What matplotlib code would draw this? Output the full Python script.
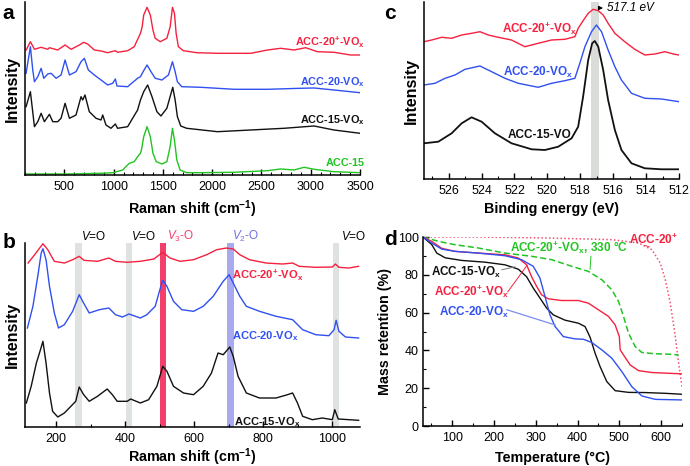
import numpy as np
import matplotlib
matplotlib.use("Agg")
import matplotlib.pyplot as plt
from matplotlib.ticker import MultipleLocator, NullLocator

plt.rcParams['font.family'] = ['Liberation Sans', 'DejaVu Sans']
plt.rcParams['mathtext.fontset'] = 'custom'
plt.rcParams['mathtext.rm'] = 'Liberation Sans'
plt.rcParams['mathtext.it'] = 'Liberation Sans:italic'
plt.rcParams['mathtext.bf'] = 'Liberation Sans:bold'

RED = '#f5213f'
BLUE = '#3050f0'
GREEN = '#22c422'
BLACK = '#111111'

# ---------------- panel a : Raman, full range ----------------
a_red_x = [112, 155, 196, 264, 331, 348, 432, 507, 568, 652, 696, 736, 804, 872, 939, 1017, 1040,
           1142, 1209, 1272, 1289, 1305, 1339, 1372, 1399, 1422, 1473, 1540, 1573, 1597, 1617, 1634,
           1657, 1707, 1842, 2054, 2392, 2561, 2696, 2831, 2949, 3067, 3236, 3405, 3500]
a_red_y = [125, 133.3, 125.7, 127.7, 125.7, 127.3, 125, 130, 125.7, 130, 132.7, 131, 125, 124, 122.3,
           124.3, 122.7, 124.3, 128.3, 141.7, 148, 160, 167.7, 160, 145, 136.7, 133.3, 136.7, 148,
           167.7, 161.7, 141.7, 128.3, 124.3, 122.3, 121.7, 121.7, 125, 126.7, 125, 127.3, 123.3,
           122.7, 120, 120]
a_blue_x = [111, 155, 179, 196, 230, 264, 291, 331, 365, 416, 466, 507, 551, 618, 669, 703, 743, 804,
            872, 939, 990, 1017, 1034, 1142, 1243, 1272, 1299, 1339, 1379, 1422, 1490, 1556, 1597,
            1624, 1647, 1691, 1885, 2223, 2561, 2898, 3034, 3236, 3500]
a_blue_y = [101.7, 128.3, 105, 93.3, 98.3, 106.7, 96.7, 101, 101.7, 96.7, 100, 115, 100, 103.3, 113.3,
            116.7, 105, 100, 95, 90, 91.7, 96, 89, 88.3, 96.7, 98.3, 103.3, 110, 103.3, 96.7, 95, 100,
            113.3, 103.3, 93.3, 88.3, 87.7, 85.7, 85.7, 86.7, 87, 85, 82.3]
a_black_x = [111, 155, 196, 230, 264, 297, 348, 382, 432, 466, 507, 551, 618, 669, 686, 709, 753, 821,
             872, 889, 922, 973, 1017, 1040, 1142, 1243, 1272, 1305, 1345, 1389, 1439, 1480, 1540,
             1573, 1600, 1624, 1647, 1681, 1741, 2054, 2392, 2730, 3034, 3236, 3500]
a_black_y = [68.3, 83.3, 48.3, 53.3, 61.7, 53.3, 60.7, 53.3, 53.3, 56.7, 71.7, 56.7, 60, 78.3, 75, 80,
             63.3, 56.7, 55, 60, 50, 46.7, 51, 46.7, 48.3, 65, 75, 83.3, 90, 78.3, 63.3, 59, 66.7,
             78.3, 87.7, 75, 58.3, 49, 46.7, 43.3, 45, 46.7, 49, 45, 41.7]
a_green_x = [111, 534, 872, 997, 1091, 1159, 1209, 1243, 1272, 1282, 1305, 1339, 1372, 1399, 1432,
             1490, 1540, 1573, 1597, 1617, 1641, 1674, 1741, 1885, 2223, 2561, 2696, 2831, 2932,
             3034, 3236, 3500]
a_green_y = [1, 1, 1.7, 2.3, 5, 11.7, 13.3, 18.3, 21.7, 25, 38.3, 48.3, 38.3, 21.7, 13.3, 11, 13.3,
             28.3, 46.7, 35, 15, 5, 2.3, 2.3, 2.7, 4.3, 6, 5, 7.7, 5.7, 3.3, 2.3]

# ---------------- panel b : Raman, low range ----------------
b_red_x = [119, 138, 162, 176, 195, 224, 248, 267, 281, 320, 353, 372, 406, 444, 483, 509, 530, 559,
           598, 636, 665, 693, 713, 732, 760, 808, 856, 885, 904, 952, 1000, 1009, 1019, 1048, 1076]
b_red_y = [164, 172.3, 183.3, 177.3, 165.7, 164, 167.3, 170.7, 166.7, 165.7, 169, 165.7, 164.7, 165.7,
           168, 174.7, 169, 165.7, 167.3, 172.3, 177.3, 179, 178, 172.3, 167.3, 164, 163, 164, 160.7,
           159.7, 160, 163, 159.7, 159, 160.7]
b_blue_x = [117, 133, 147, 157, 162, 171, 181, 195, 207, 224, 248, 267, 277, 296, 325, 353, 372, 392,
            411, 444, 463, 487, 502, 509, 521, 540, 564, 598, 626, 655, 684, 701, 713, 732, 751, 789,
            837, 885, 914, 952, 990, 1005, 1011, 1019, 1038, 1076]
b_blue_y = [99, 120.7, 150.7, 174, 178.3, 167.3, 140.7, 114, 99, 102.3, 115.7, 132.3, 125.7, 114, 117.3,
            119, 112.3, 110, 113, 109, 112.3, 120.7, 139, 146.7, 140.7, 125.7, 117.3, 115.7, 120.7,
            130.7, 145.7, 152.3, 144, 130.7, 120.7, 115.7, 110.7, 107.3, 97.3, 92.3, 91.3, 97.3,
            106.7, 95.7, 90, 89]
b_black_x = [114, 128, 143, 152, 162, 171, 181, 190, 205, 224, 243, 257, 267, 280, 296, 320, 348, 363,
             377, 406, 416, 444, 468, 492, 509, 521, 540, 569, 598, 626, 650, 669, 684, 703, 713, 727,
             751, 789, 837, 870, 885, 899, 914, 942, 971, 1000, 1007, 1017, 1076]
b_black_y = [24, 40.7, 64, 74, 85.7, 64, 34, 15.7, 10, 14, 20.7, 25.7, 40, 32.3, 25.7, 30.7, 38, 32.3,
             25.7, 25.7, 28, 24, 27.3, 40.7, 60.7, 55.7, 40.7, 34, 32.3, 40.7, 54, 74, 72.3, 80, 70.7,
             50.7, 34, 29, 29, 32.3, 34, 24, 10.7, 7.3, 9, 7.3, 17.3, 8, 6.7]
b_grey_bands = [265, 412, 1010]
b_red_band = 510
b_blue_band = 705

# ---------------- panel c : XPS V 2p ----------------
c_red_x = [527.5, 527.03, 526.43, 525.82, 525.21, 524.61, 524.10, 523.59, 522.99, 522.18, 521.37,
           520.56, 519.75, 518.94, 518.33, 518.13, 517.83, 517.52, 517.22, 516.91, 516.61, 516.31,
           515.90, 515.30, 514.69, 514.08, 513.47, 512.87, 512.26, 512.0]
c_red_y = [137.3, 139, 141.7, 140.7, 144, 145.7, 147.3, 144, 141.7, 139, 132.3, 135.7, 139, 139.7,
           142.3, 150.7, 158.3, 165.7, 169.7, 168.3, 164, 155.7, 145.7, 137.3, 129.7, 124, 125,
           127.3, 124.7, 124]
c_blue_x = [527.5, 526.83, 526.22, 525.62, 525.01, 524.10, 523.39, 522.58, 521.77, 520.56, 519.75,
            518.94, 518.33, 518.03, 517.72, 517.32, 517.02, 516.71, 516.31, 515.90, 515.50, 514.89,
            514.08, 513.07, 512.0]
c_blue_y = [94, 95.7, 100.7, 104, 109.7, 113, 107.3, 100.7, 95.7, 91.7, 95.7, 98.3, 100.7, 115.7,
            132.3, 147.3, 154, 147.3, 129, 112.3, 99, 85.7, 80.7, 80, 77.3]
c_black_x = [527.5, 526.63, 525.82, 525.21, 524.61, 524.0, 523.19, 522.18, 520.96, 520.15, 519.34,
             518.53, 518.13, 517.83, 517.52, 517.28, 517.12, 516.91, 516.61, 516.31, 515.90, 515.50,
             514.89, 514.08, 513.07, 512.0]
c_black_y = [35.7, 37.3, 45.7, 55.7, 61.7, 57.3, 45.7, 35.7, 29.7, 29, 32.3, 40.7, 52.3, 82.3, 119,
             135.7, 138, 132.3, 109, 79, 49, 29, 15.7, 10.7, 9.7, 9.7]
c_peak = 517.1

# ---------------- panel d : TGA ----------------
d_black_T = [30, 51, 63, 83, 123, 178, 226, 258, 278, 294, 310, 326, 342, 370, 402, 418, 430, 442, 454,
             470, 490, 522, 562, 610, 650]
d_black_M = [100, 96, 91.5, 89, 87.6, 86.7, 85.3, 83, 79, 73, 67.7, 62.4, 58.8, 56, 54.4, 52.6, 47,
             38.5, 31.4, 23.5, 18.7, 17.8, 17.7, 17.3, 16.8]
d_red_T = [30, 51, 75, 107, 162, 226, 258, 278, 290, 302, 314, 330, 362, 402, 426, 450, 474, 490, 500,
           502, 510, 526, 546, 578, 618, 650]
d_red_M = [100, 97.7, 94, 92.4, 91.5, 90.6, 88.9, 85.3, 79, 73.9, 69.4, 67.3, 66.4, 66.4, 65, 61.5,
           58, 53.5, 47.3, 40.3, 37.6, 32.3, 29.3, 28.3, 27.9, 27.6]
d_blue_T = [30, 51, 75, 107, 162, 226, 266, 294, 310, 322, 334, 346, 366, 394, 414, 434, 458, 482, 506,
            530, 554, 586, 650]
d_blue_M = [100, 96.8, 93.6, 92.4, 91.5, 90.1, 88, 84.5, 78.3, 68.6, 58.8, 52.7, 47.3, 46.1, 45.9,
            44.2, 40.3, 35.9, 28.8, 20.8, 15.9, 14.1, 13.8]
d_green_T = [30, 67, 107, 162, 226, 290, 338, 386, 426, 458, 482, 498, 510, 522, 538, 554, 586, 618,
             642]
d_green_M = [100, 97.7, 95.9, 94.2, 91.5, 89.8, 88, 84.5, 81.8, 77.4, 72.1, 65.9, 58, 49.1, 42, 38.9,
             38.2, 38, 37.6]
d_dot_T = [30, 162, 322, 482, 546, 578, 598, 610, 622, 634, 642, 650]
d_dot_M = [100, 100, 99.5, 98.6, 96.8, 93.3, 86.2, 77.4, 65, 47.3, 33.2, 20.8]


def style(ax, intensity=True):
    for s in ['top', 'right']:
        ax.spines[s].set_visible(False)
    for s in ['left', 'bottom']:
        ax.spines[s].set_linewidth(1.1)
    ax.tick_params(axis='x', which='both', direction='in', labelsize=9, pad=4)
    ax.tick_params(axis='x', which='major', length=4, width=1)
    ax.tick_params(axis='x', which='minor', length=2, width=0.8)
    if intensity:
        ax.yaxis.set_major_locator(NullLocator())
        ax.set_ylabel('Intensity', fontsize=11.5, fontweight='bold', labelpad=4)


def lbl(ax, x, y, s, color, size, ha='center'):
    ax.text(x, y, s, color=color, ha=ha, va='center', fontsize=size, fontweight='bold', clip_on=False)


fig = plt.figure(figsize=(6.9, 4.66), dpi=100)

# ---- a ----
ax = fig.add_axes([0.0362, 0.6245, 0.4855, 0.3712])
ax.plot(a_red_x, a_red_y, color=RED, lw=1.0)
ax.plot(a_blue_x, a_blue_y, color=BLUE, lw=1.0)
ax.plot(a_black_x, a_black_y, color=BLACK, lw=1.0)
ax.plot(a_green_x, a_green_y, color=GREEN, lw=1.0)
ax.set_xlim(100, 3500)
ax.set_ylim(0, 173)
ax.xaxis.set_major_locator(MultipleLocator(500))
ax.xaxis.set_minor_locator(MultipleLocator(100))
style(ax)
ax.set_xlabel(r'Raman shift (cm$^{\mathbf{-1}}$)', fontsize=10.3, fontweight='bold', labelpad=4)
lbl(ax, 3550, 133, r'ACC-20$^{\mathbf{+}}$-VO$_{\mathbf{x}}$', RED, 7.8, 'right')
lbl(ax, 3550, 93, r'ACC-20-VO$_{\mathbf{x}}$', BLUE, 7.8, 'right')
lbl(ax, 3550, 55, r'ACC-15-VO$_{\mathbf{x}}$', BLACK, 7.8, 'right')
lbl(ax, 3550, 12, 'ACC-15', GREEN, 7.8, 'right')
fig.text(0.004, 0.972, 'a', fontsize=15, fontweight='bold', va='center')

# ---- b ----
ax = fig.add_axes([0.0362, 0.0837, 0.4855, 0.3948])
for c in b_grey_bands:
    ax.axvspan(c - 9, c + 9, color='#dfe3df', lw=0)
ax.axvspan(b_red_band - 9, b_red_band + 9, color='#f2406a', lw=0)
ax.axvspan(b_blue_band - 9, b_blue_band + 9, color='#a9a9ef', lw=0)
ax.plot(b_red_x, b_red_y, color=RED, lw=1.0)
ax.plot(b_blue_x, b_blue_y, color=BLUE, lw=1.0)
ax.plot(b_black_x, b_black_y, color=BLACK, lw=1.0)
ax.set_xlim(110, 1080)
ax.set_ylim(0, 184)
ax.xaxis.set_major_locator(MultipleLocator(200))
ax.xaxis.set_minor_locator(MultipleLocator(100))
style(ax)
ax.set_xlabel(r'Raman shift (cm$^{\mathbf{-1}}$)', fontsize=10.3, fontweight='bold', labelpad=1)
for xc in [310, 454, 1062]:
    ax.text(xc, 191, r'$V$=O', fontsize=8.5, ha='center', va='center', clip_on=False)
ax.text(561, 191, r'$V_3$-O', fontsize=8.5, color='#f0406a', ha='center', va='center', clip_on=False)
ax.text(748, 191, r'$V_2$-O', fontsize=8.5, color='#6f6fe0', ha='center', va='center', clip_on=False)
lbl(ax, 813, 152, r'ACC-20$^{\mathbf{+}}$-VO$_{\mathbf{x}}$', RED, 8)
lbl(ax, 805, 91, r'ACC-20-VO$_{\mathbf{x}}$', BLUE, 8)
lbl(ax, 811, 5, r'ACC-15-VO$_{\mathbf{x}}$', BLACK, 8)
fig.text(0.004, 0.48, 'b', fontsize=15, fontweight='bold', va='center')

# ---- c ----
ax = fig.add_axes([0.6145, 0.6159, 0.3696, 0.3798])
ax.axvspan(c_peak - 0.25, c_peak + 0.25, color='#dadcda', lw=0)
ax.plot(c_red_x, c_red_y, color=RED, lw=1.0)
ax.plot(c_blue_x, c_blue_y, color=BLUE, lw=1.0)
ax.plot(c_black_x, c_black_y, color=BLACK, lw=1.3)
ax.set_xlim(527.5, 512)
ax.set_ylim(0, 177)
ax.xaxis.set_major_locator(MultipleLocator(2))
ax.xaxis.set_minor_locator(MultipleLocator(1))
style(ax)
ax.set_xlabel('Binding energy (eV)', fontsize=10.3, fontweight='bold', labelpad=4)
lbl(ax, 520.45, 150, r'ACC-20$^{\mathbf{+}}$-VO$_{\mathbf{x}}$', RED, 8.5)
lbl(ax, 520.6, 107, r'ACC-20-VO$_{\mathbf{x}}$', BLUE, 8.5)
lbl(ax, 520.5, 44, 'ACC-15-VO', BLACK, 8.5)
ax.annotate('', xy=(516.45, 171), xytext=(516.95, 171),
            arrowprops=dict(arrowstyle='-|>', lw=0.8, color='black', mutation_scale=6),
            annotation_clip=False)
ax.text(516.35, 171, '517.1 eV', fontsize=8.5, fontstyle='italic', ha='left', va='center', clip_on=False)
fig.text(0.556, 0.97, 'c', fontsize=15, fontweight='bold', va='center')

# ---- d ----
ax = fig.add_axes([0.613, 0.0858, 0.3754, 0.4056])
ax.plot(d_dot_T, d_dot_M, color='#f2506e', lw=1.1, ls=(0, (1, 1.5)))
ax.plot(d_green_T, d_green_M, color=GREEN, lw=1.1, ls=(0, (4, 2)))
ax.plot(d_black_T, d_black_M, color=BLACK, lw=1.0)
ax.plot(d_red_T, d_red_M, color=RED, lw=1.0)
ax.plot(d_blue_T, d_blue_M, color=BLUE, lw=1.0)
ax.set_xlim(30, 650)
ax.set_ylim(0, 100)
ax.xaxis.set_major_locator(MultipleLocator(100))
ax.xaxis.set_minor_locator(MultipleLocator(50))
ax.yaxis.set_major_locator(MultipleLocator(20))
ax.yaxis.set_minor_locator(MultipleLocator(10))
style(ax, intensity=False)
ax.tick_params(axis='y', which='both', direction='in', labelsize=9, pad=3)
ax.tick_params(axis='y', which='major', length=4, width=1)
ax.tick_params(axis='y', which='minor', length=2, width=0.8)
ax.set_xlabel('Temperature (\u00b0C)', fontsize=10.3, fontweight='bold', labelpad=5)
ax.set_ylabel('Mass retention (%)', fontsize=10.3, fontweight='bold', labelpad=4)
# leader lines
ax.plot([432, 430], [89.8, 83], color=GREEN, lw=0.7)
ax.plot([219, 250], [82.7, 84.2], color='#777777', lw=0.7)
ax.plot([233, 279], [71, 85], color=RED, lw=0.7)
ax.plot([231, 346], [61.5, 53.5], color='#7b8cf0', lw=0.9)
ax.plot([560, 572], [95.6, 94.8], color=RED, lw=0.6)
lbl(ax, 583, 98.6, r'ACC-20$^{\mathbf{+}}$', RED, 8.5)
lbl(ax, 380, 94.2, r'ACC-20$^{\mathbf{+}}$-VO$_{\mathbf{x}}$, 330 $\mathbf{\degree}$C', GREEN, 8.5)
lbl(ax, 133, 81, r'ACC-15-VO$_{\mathbf{x}}$', BLACK, 8.5)
lbl(ax, 147, 71, r'ACC-20$^{\mathbf{+}}$-VO$_{\mathbf{x}}$', RED, 8.5)
lbl(ax, 152, 60, r'ACC-20-VO$_{\mathbf{x}}$', BLUE, 8.5)
fig.text(0.556, 0.485, 'd', fontsize=15, fontweight='bold', va='center')

fig.savefig('out.png', dpi=100)
